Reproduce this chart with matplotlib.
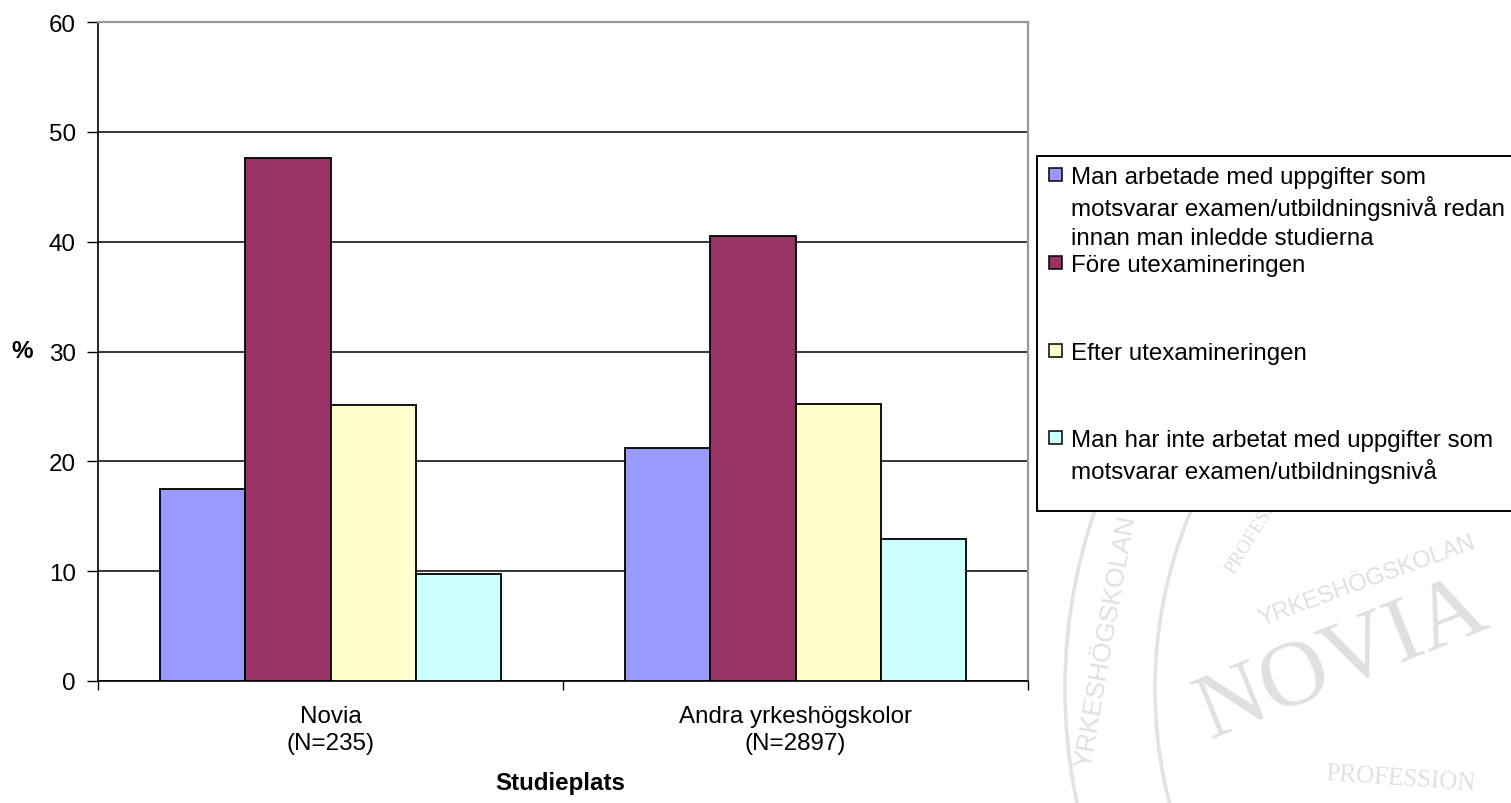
import matplotlib
matplotlib.use("Agg")
import matplotlib.pyplot as plt
from matplotlib.patches import Rectangle, Arc
import numpy as np

# ---- data ----
categories = ["Novia\n(N=235)", "Andra yrkeshögskolor\n(N=2897)"]
series_labels = [
    "Man arbetade med uppgifter som\nmotsvarar examen/utbildningsnivå redan\ninnan man inledde studierna",
    "Före utexamineringen",
    "Efter utexamineringen",
    "Man har inte arbetat med uppgifter som\nmotsvarar examen/utbildningsnivå",
]
series_values = [
    [17.5, 21.2],
    [47.6, 40.5],
    [25.1, 25.2],
    [9.7, 12.9],
]
series_colors = ["#9999FF", "#993366", "#FFFFCC", "#CCFFFF"]
y_ticks = [0, 10, 20, 30, 40, 50, 60]
x_title = "Studieplats"
y_title = "%"

plt.rcParams["font.family"] = ["Liberation Sans", "DejaVu Sans"]
FS = 17.4

W, H = 1511, 804
fig = plt.figure(figsize=(W / 100, H / 100), dpi=100)
fig.patch.set_facecolor("white")

# ---- faint watermark in background ----
wm_top = 160
wm = fig.add_axes([0, 0, 1, (H - wm_top) / H], zorder=-10)
wm.set_xlim(0, W)
wm.set_ylim(H, wm_top)
wm.axis("off")
wm_col = "#e3e3e3"
for r in (550, 460):
    wm.add_patch(Arc((1615, 690), 2 * r, 2 * r, theta1=90, theta2=270, color=wm_col, lw=2.6))
wm.text(1210, 740, "NOVIA", fontsize=68, family="Liberation Serif", color="#e0e0e0",
        rotation=22, ha="left", va="baseline", rotation_mode="anchor")
wm.text(1262, 626, "YRKESHÖGSKOLAN", fontsize=17, family="Liberation Sans", color="#e0e0e0",
        rotation=20, ha="left", va="baseline", rotation_mode="anchor")
wm.text(1106, 642, "YRKESHÖGSKOLAN", fontsize=19, family="Liberation Sans", color="#e0e0e0",
        rotation=80, ha="center", va="center", rotation_mode="anchor")
wm.text(1325, 780, "PROFESSION", fontsize=18, family="Liberation Serif",
        color="#e0e0e0", rotation=-4, ha="left", va="baseline", rotation_mode="anchor")
wm.text(1233, 575, "PROFESSION", fontsize=14, family="Liberation Serif", color="#e0e0e0",
        rotation=58, ha="left", va="baseline", rotation_mode="anchor")

# ---- main axes ----
left, right, top, bottom = 98, 1028, 23, 682
ax = fig.add_axes([left / W, 1 - bottom / H, (right - left) / W, (bottom - top) / H])
ax.set_facecolor("none")

n_series = len(series_values)
bar_w = 0.183
x = np.arange(len(categories))
for i, (vals, col) in enumerate(zip(series_values, series_colors)):
    offs = (i - (n_series - 1) / 2) * bar_w
    ax.bar(x + offs, vals, width=bar_w, color=col, edgecolor="black", linewidth=1.3, zorder=3)

ax.set_xlim(-0.5, len(categories) - 0.5)
ax.set_ylim(y_ticks[0], y_ticks[-1])
ax.set_yticks(y_ticks)
ax.set_yticklabels([str(t) for t in y_ticks], fontsize=FS)
ax.yaxis.grid(True, color="black", linewidth=1.1, zorder=0)
ax.set_axisbelow(True)

ax.set_xticks(np.arange(-0.5, len(categories), 1.0))
ax.set_xticklabels([])
ax.set_xticks(x, minor=True)
ax.set_xticklabels(categories, minor=True, fontsize=FS, linespacing=1.32)
ax.tick_params(axis="x", which="major", length=6.5, width=1.0, direction="out", color="black")
ax.tick_params(axis="x", which="minor", length=0, pad=17)
ax.tick_params(axis="y", length=8, width=1.0, direction="out", pad=8, color="black")

for s in ("left", "bottom"):
    ax.spines[s].set_color("black")
    ax.spines[s].set_linewidth(1.2)
for s in ("top", "right"):
    ax.spines[s].set_color("#999999")
    ax.spines[s].set_linewidth(1.6)

ax.set_ylabel(y_title, rotation=0, fontsize=FS, fontweight="bold", ha="center", va="center")
ax.yaxis.set_label_coords((22 - left) / (right - left), (bottom - 352) / (bottom - top))
ax.set_xlabel(x_title, fontsize=FS, fontweight="bold", va="center")
ax.xaxis.set_label_coords((560 - left) / (right - left), (bottom - 784) / (bottom - top))

# ---- legend (drawn in figure pixel coordinates) ----
lg = fig.add_axes([0, 0, 1, 1], zorder=5)
lg.set_xlim(0, W)
lg.set_ylim(H, 0)
lg.axis("off")
lg.add_patch(Rectangle((1037, 157), 500, 355, facecolor="white", edgecolor="black",
                       linewidth=1.4, clip_on=False))
entry_y = [175.5, 263.5, 351.5, 438.5]
line_gap = 30.5
for lab, col, yy in zip(series_labels, series_colors, entry_y):
    lg.add_patch(Rectangle((1048.5, yy - 6.5), 13, 13, facecolor=col, edgecolor="black",
                           linewidth=1.1))
    for k, line in enumerate(lab.split("\n")):
        lg.text(1071, yy + k * line_gap, line, fontsize=FS, ha="left", va="center_baseline")

fig.savefig("out.png", dpi=100, facecolor="white")
